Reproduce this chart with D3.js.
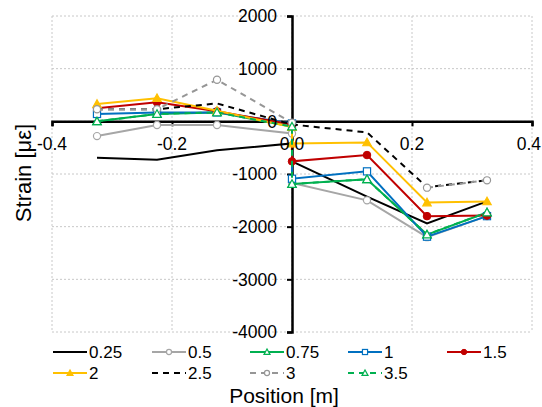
<!DOCTYPE html>
<html>
<head>
<meta charset="utf-8">
<script src="https://cdn.jsdelivr.net/npm/d3@7"></script>
<style>
  html, body { margin: 0; padding: 0; background: #fff; }
  svg { display: block; font-family: "Liberation Sans", Arial, sans-serif; }
</style>
</head>
<body>
<svg id="chart" width="542" height="407"></svg>
<script>
// ---- data ----
const positions = [-0.325, -0.225, -0.125, 0, 0, 0.125, 0.225, 0.325];
const seriesNames = ["0.25", "0.5", "0.75", "1", "1.5", "2", "2.5", "3", "3.5"];
const s025 = [-690, -730, -550, -420, -760, -1430, -1940, -1520];
const s05  = [-280, -70, -70, -230, -1170, -1500, -2200, -1800];
const s075 = [0, 140, 170, -100, -1190, -1100, -2150, -1730];
const s1   = [140, 170, 170, -40, -1090, -950, -2190, -1800];
const s15  = [250, 360, 190, -60, -760, -640, -1800, -1790];
const s2   = [330, 440, 200, -110, -420, -400, -1540, -1520];
const s25  = [230, 230, 340, -60, -60, -210, -1250, -1120];
const s3   = [230, 230, 790, -25, null, null, -1260, -1120];
const s35  = [0, 140, 170, -100, -1190, -1100, -2150, -1730];
const xTicks = [-0.4, -0.2, 0, 0.2, 0.4];
const xTickLabels = ["-0.4", "-0.2", "0.0", "0.2", "0.4"];
const yTicks = [2000, 1000, 0, -1000, -2000, -3000, -4000];

const styles = [
  {color: "#000000", dash: null, marker: "none"},
  {color: "#a6a6a6", dash: null, marker: "circleOpen"},
  {color: "#00b050", dash: null, marker: "triOpen"},
  {color: "#0070c0", dash: null, marker: "squareOpen"},
  {color: "#c00000", dash: null, marker: "circle"},
  {color: "#ffc000", dash: null, marker: "tri"},
  {color: "#000000", dash: "6,5", marker: "none"},
  {color: "#969696", dash: "6,5", marker: "circleOpen"},
  {color: "#00b050", dash: "6,5", marker: "triOpen"}
];
const allValues = [s025, s05, s075, s1, s15, s2, s25, s3, s35];

const svg = d3.select("#chart");
svg.append("rect").attr("width", 542).attr("height", 407).attr("fill", "#fff");

const x = d3.scaleLinear().domain([-0.4, 0.4]).range([52, 532]);
const y = d3.scaleLinear().domain([-4000, 2000]).range([332, 16]);

// gridlines
const grid = svg.append("g");
grid.selectAll("line.v").data(xTicks).enter().append("line")
  .attr("x1", d => x(d)).attr("x2", d => x(d))
  .attr("y1", y(2000)).attr("y2", y(-4000))
  .attr("stroke", "#c8c8c8").attr("stroke-width", 1).attr("stroke-dasharray", "2,2");
grid.selectAll("line.h").data(yTicks).enter().append("line")
  .attr("x1", x(-0.4)).attr("x2", x(0.4))
  .attr("y1", d => y(d)).attr("y2", d => y(d))
  .attr("stroke", "#c8c8c8").attr("stroke-width", 1).attr("stroke-dasharray", "2,2");

// axes
const xAxis = d3.axisBottom(x).tickValues(xTicks).tickSize(5).tickFormat(() => "");
const gx = svg.append("g").attr("transform", `translate(0,${y(0)})`).call(xAxis);
gx.select(".domain").attr("stroke", "#000").attr("stroke-width", 2.5);
gx.selectAll(".tick line").attr("stroke", "#000").attr("stroke-width", 2);

const yAxis = d3.axisLeft(y).tickValues(yTicks).tickSize(5).tickFormat(() => "");
const gy = svg.append("g").attr("transform", `translate(${x(0)},0)`).call(yAxis);
gy.select(".domain").attr("stroke", "#000").attr("stroke-width", 2.5);
gy.selectAll(".tick line").attr("stroke", "#000").attr("stroke-width", 2);

// series
const line = d3.line()
  .defined(d => d.v !== null)
  .x(d => x(d.p)).y(d => y(d.v));

function drawMarker(g, type, cx, cy, color, size) {
  const r = size;
  if (type === "circle") {
    g.append("circle").attr("cx", cx).attr("cy", cy).attr("r", r * 0.9).attr("fill", color).attr("stroke", color);
  } else if (type === "circleOpen") {
    g.append("circle").attr("cx", cx).attr("cy", cy).attr("r", r * 0.85).attr("fill", "#fff").attr("stroke", color).attr("stroke-width", 1.2);
  } else if (type === "tri" || type === "triOpen") {
    const pts = [[cx, cy - r], [cx - r, cy + r * 0.8], [cx + r, cy + r * 0.8]];
    g.append("polygon").attr("points", pts.map(p => p.join(",")).join(" "))
      .attr("fill", type === "tri" ? color : "#fff").attr("stroke", color).attr("stroke-width", 1.2);
  } else if (type === "squareOpen") {
    g.append("rect").attr("x", cx - r * 0.85).attr("y", cy - r * 0.85).attr("width", r * 1.7).attr("height", r * 1.7)
      .attr("fill", "#fff").attr("stroke", color).attr("stroke-width", 1.2);
  }
}

allValues.forEach((vals, i) => {
  const st = styles[i];
  const data = vals.map((v, k) => ({p: positions[k], v: v}));
  const g = svg.append("g");
  g.append("path").datum(data).attr("d", line)
    .attr("fill", "none").attr("stroke", st.color).attr("stroke-width", 2)
    .attr("stroke-dasharray", st.dash);
  data.filter(d => d.v !== null).forEach(d => drawMarker(g, st.marker, x(d.p), y(d.v), st.color, 4.2));
});

// tick labels
const lab = svg.append("g").attr("font-size", 17.5).attr("fill", "#000");
lab.selectAll("text.y").data(yTicks).enter().append("text")
  .attr("x", x(0) - 15).attr("y", d => y(d)).attr("dy", "0.36em")
  .attr("text-anchor", "end").text(d => d);
lab.selectAll("text.x").data(xTicks).enter().append("text")
  .attr("x", d => d === 0.4 ? 541 : x(d)).attr("y", y(0) + 22).attr("dy", "0.36em")
  .attr("text-anchor", d => d === 0.4 ? "end" : "middle").text((d, i) => xTickLabels[i]);

// axis titles
svg.append("text").attr("transform", `translate(31,173) rotate(-90)`)
  .attr("text-anchor", "middle").attr("font-size", 22).text("Strain [με]");
svg.append("text").attr("x", 284).attr("y", 403)
  .attr("text-anchor", "middle").attr("font-size", 21).text("Position [m]");

// legend
const legPos = [
  [53, 352], [152, 352], [250, 352], [348, 352], [447, 352],
  [53, 373], [152, 373], [250, 373], [348, 373]
];
seriesNames.forEach((name, i) => {
  const st = styles[i];
  const [lx, ly] = legPos[i];
  const g = svg.append("g");
  g.append("line").attr("x1", lx).attr("x2", lx + 34).attr("y1", ly).attr("y2", ly)
    .attr("stroke", st.color).attr("stroke-width", 2).attr("stroke-dasharray", st.dash);
  drawMarker(g, st.marker, lx + 17, ly, st.color, 3);
  g.append("text").attr("x", lx + 36).attr("y", ly).attr("dy", "0.36em")
    .attr("font-size", 17).text(name);
});
</script>
</body>
</html>
